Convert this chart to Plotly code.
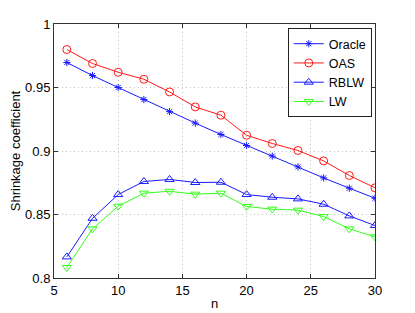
import plotly.graph_objects as go

n = [6, 8, 10, 12, 14, 16, 18, 20, 22, 24, 26, 28, 30]
oracle = [0.9697, 0.9594, 0.9500, 0.9405, 0.9310, 0.9220, 0.9130, 0.9043, 0.8960, 0.8875, 0.8788, 0.8707, 0.8628]
oas = [0.9799, 0.9689, 0.9620, 0.9565, 0.9465, 0.9347, 0.9282, 0.9124, 0.9059, 0.9004, 0.8922, 0.8807, 0.8710]
rblw = [0.8166, 0.8470, 0.8657, 0.8760, 0.8776, 0.8752, 0.8754, 0.8657, 0.8636, 0.8623, 0.8581, 0.8489, 0.8413]
lw = [0.8083, 0.8387, 0.8565, 0.8668, 0.8683, 0.8660, 0.8668, 0.8563, 0.8542, 0.8534, 0.8484, 0.8387, 0.8324]

series = [
    ("Oracle", oracle, "#1a1aff", "asterisk-open", 6),
    ("OAS", oas, "#ff1a1a", "circle-open", 8),
    ("RBLW", rblw, "#1a1aff", "triangle-up-open", 8),
    ("LW", lw, "#33ff1a", "triangle-down-open", 8),
]

fig = go.Figure()
for name, vals, col, sym, sz in series:
    fig.add_trace(go.Scatter(
        x=n, y=vals, name=name, mode="lines+markers",
        line=dict(color=col, width=1),
        marker=dict(symbol=sym, size=sz, color=col, line=dict(color=col, width=1)),
    ))

font = "Liberation Sans, Arial, sans-serif"
# the page body has an 8px margin, so the figure is sized to fit the window
fig.update_layout(
    width=407, height=305,
    margin=dict(l=46, r=40, t=16, b=35, autoexpand=False),
    paper_bgcolor="white", plot_bgcolor="white",
    font=dict(family=font, size=13, color="black"),
    legend=dict(
        x=0.99, y=0.984, xanchor="right", yanchor="top",
        bordercolor="#222222", borderwidth=1, bgcolor="white",
        font=dict(size=12.5), tracegroupgap=0, itemwidth=30,
    ),
    showlegend=True,
)
fig.update_xaxes(
    range=[5, 30], tickvals=[5, 10, 15, 20, 25, 30], automargin=False,
    showgrid=True, gridcolor="#c0c0c0", griddash="1px,3px", gridwidth=1,
    showline=True, linecolor="#333333", linewidth=1, mirror="ticks",
    ticks="inside", ticklen=4, tickcolor="#333333",
    zeroline=False,
    title=dict(text="n", standoff=2, font=dict(size=13)),
)
fig.update_yaxes(
    range=[0.8, 1.0], tickvals=[0.8, 0.85, 0.9, 0.95, 1.0], automargin=False,
    ticktext=["0.8", "0.85", "0.9", "0.95", "1"],
    showgrid=True, gridcolor="#c0c0c0", griddash="1px,3px", gridwidth=1,
    showline=True, linecolor="#333333", linewidth=1, mirror="ticks",
    ticks="inside", ticklen=4, tickcolor="#333333",
    zeroline=False,
    title=dict(text="Shrinkage coefficient", standoff=4, font=dict(size=13)),
)

fig.write_html("out.html")
